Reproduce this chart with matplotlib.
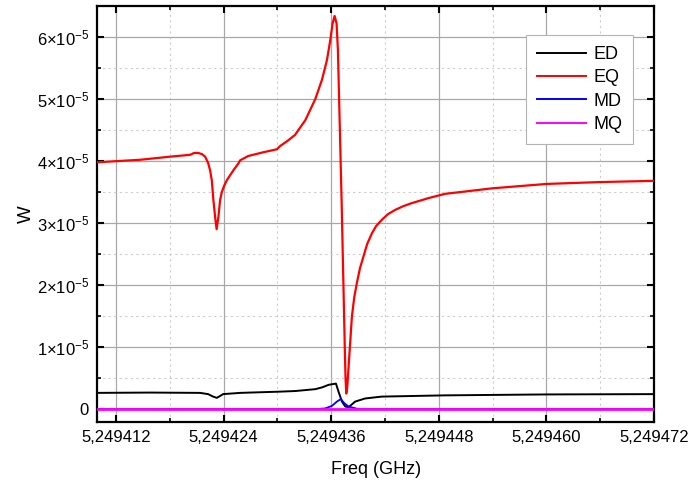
import matplotlib
matplotlib.use("Agg")
import matplotlib.pyplot as plt
from matplotlib.ticker import MultipleLocator, FuncFormatter

plt.rcParams["font.family"] = ["Liberation Sans", "DejaVu Sans"]
plt.rcParams["mathtext.fontset"] = "custom"
plt.rcParams["mathtext.rm"] = "Liberation Sans"
plt.rcParams["mathtext.it"] = "Liberation Sans:italic"

F0 = 5.249412  # GHz, reference for the offsets below (offsets in kHz)

# EQ (electric quadrupole)
eq_df = [-2.07, 2.69, 6.03, 8.26, 8.70, 9.15, 9.59, 9.93, 10.26, 10.48,
         10.67, 10.85, 11.04, 11.21, 11.41, 11.60, 11.79, 12.05, 12.35, 13.08,
         13.64, 13.83, 14.72, 16.39, 17.95, 18.28, 19.17, 19.95, 21.11, 22.22,
         22.96, 23.52, 23.89, 24.15, 24.37, 24.59, 24.74, 25.15, 25.37, 25.52,
         25.59, 25.67, 25.78, 25.93, 26.30, 26.56, 26.85, 27.20, 27.59, 28.0,
         28.52, 29.0, 29.63, 30.3, 31.11, 32.0, 32.96, 34.81, 36.67, 42.0,
         48.0, 53.9, 60.0]
eq_w = [3.98, 4.02, 4.07, 4.10, 4.13, 4.13, 4.11, 4.07, 3.97, 3.85,
        3.69, 3.37, 3.10, 2.90, 3.10, 3.37, 3.50, 3.60, 3.69, 3.85,
        3.96, 4.01, 4.08, 4.14, 4.19, 4.24, 4.33, 4.42, 4.66, 5.00,
        5.31, 5.63, 5.95, 6.22, 6.34, 6.22, 5.79, 3.37, 1.90, 0.90,
        0.50, 0.25, 0.35, 0.68, 1.49, 1.80, 2.03, 2.27, 2.46, 2.66,
        2.83, 2.95, 3.05, 3.14, 3.21, 3.27, 3.32, 3.40, 3.47, 3.56,
        3.63, 3.66, 3.68]

# ED (electric dipole)
ed_df = [-2.07, 3.8, 9.37, 10.26, 10.82, 11.23, 11.6, 11.93, 13.83, 18.28,
         20.0, 22.22, 23.0, 23.7, 24.52, 24.81, 25.19, 25.56, 25.93, 26.67,
         27.78, 29.63, 36.67, 48.0, 60.0]
ed_w = [0.26, 0.265, 0.26, 0.24, 0.20, 0.18, 0.21, 0.24, 0.26, 0.28,
        0.29, 0.32, 0.35, 0.39, 0.41, 0.28, 0.12, 0.04, 0.03, 0.12,
        0.17, 0.20, 0.22, 0.235, 0.24]

# MD (magnetic dipole)
md_df = [-2.07, 22.5, 23.33, 24.07, 24.63, 25.07, 25.48, 25.93, 26.85, 27.6, 60.0]
md_w = [0.0, 0.0, 0.01, 0.05, 0.12, 0.16, 0.09, 0.04, 0.005, 0.0, 0.0]

# MQ (magnetic quadrupole)
mq_df = [-2.07, 60.0]
mq_w = [0.0, 0.0]

x_ticks = [5.249412, 5.249424, 5.249436, 5.249448, 5.249460, 5.249472]


def to_freq(df):
    return [F0 + d * 1e-6 for d in df]


def to_w(v):
    return [a * 1e-5 for a in v]


fig = plt.figure(figsize=(6.92, 4.88), dpi=100)
ax = fig.add_axes([0.1406, 0.1352, 0.8045, 0.8525])

ax.plot(to_freq(ed_df), to_w(ed_w), color="black", lw=1.4, label="ED", zorder=3)
ax.plot(to_freq(eq_df), to_w(eq_w), color="#ff0000", lw=1.6, label="EQ", zorder=3)
ax.plot(to_freq(md_df), to_w(md_w), color="#0000ff", lw=1.3, label="MD", zorder=4)
ax.plot(to_freq(mq_df), to_w(mq_w), color="#ff00ff", lw=2.0, label="MQ", zorder=5)

ax.set_xlim(5.2494099, 5.249472)
ax.set_ylim(-0.21e-5, 6.5e-5)

ax.set_xticks(x_ticks)
ax.xaxis.set_minor_locator(MultipleLocator(6e-6))
ax.yaxis.set_major_locator(MultipleLocator(1e-5))
ax.yaxis.set_minor_locator(MultipleLocator(0.5e-5))

ax.xaxis.set_major_formatter(FuncFormatter(lambda v, p: f"{v:.6f}".replace(".", ",")))


def yfmt(v, p):
    k = int(round(v / 1e-5))
    if k == 0:
        return "0"
    return rf"${k}{{\times}}10^{{-5}}$"


ax.yaxis.set_major_formatter(FuncFormatter(yfmt))

ax.grid(True, which="major", color="#a8a8a8", lw=0.9, zorder=0)
ax.grid(True, which="minor", color="#cccccc", lw=0.8, ls=(0, (2, 3)), zorder=0)
ax.set_axisbelow(True)

for s in ax.spines.values():
    s.set_linewidth(1.6)

ax.tick_params(which="both", direction="in", top=True, right=True)
ax.tick_params(which="major", length=5, width=1.5, labelsize=12, pad=6)
ax.tick_params(which="minor", length=3, width=1.2)

ax.set_xlabel("Freq (GHz)", fontsize=13, labelpad=11)
ax.set_ylabel("W", fontsize=13.5, labelpad=1)

leg = ax.legend(loc="upper right", bbox_to_anchor=(0.962, 0.930),
                borderaxespad=0, fontsize=13, frameon=True, fancybox=False,
                framealpha=1, edgecolor="#b4b4b4", handlelength=2.7,
                labelspacing=0.35, handletextpad=0.4, borderpad=0.6)
leg.get_frame().set_linewidth(0.8)
for line in leg.get_lines():
    line.set_linewidth(1.4)

fig.savefig("out.png", dpi=100)
